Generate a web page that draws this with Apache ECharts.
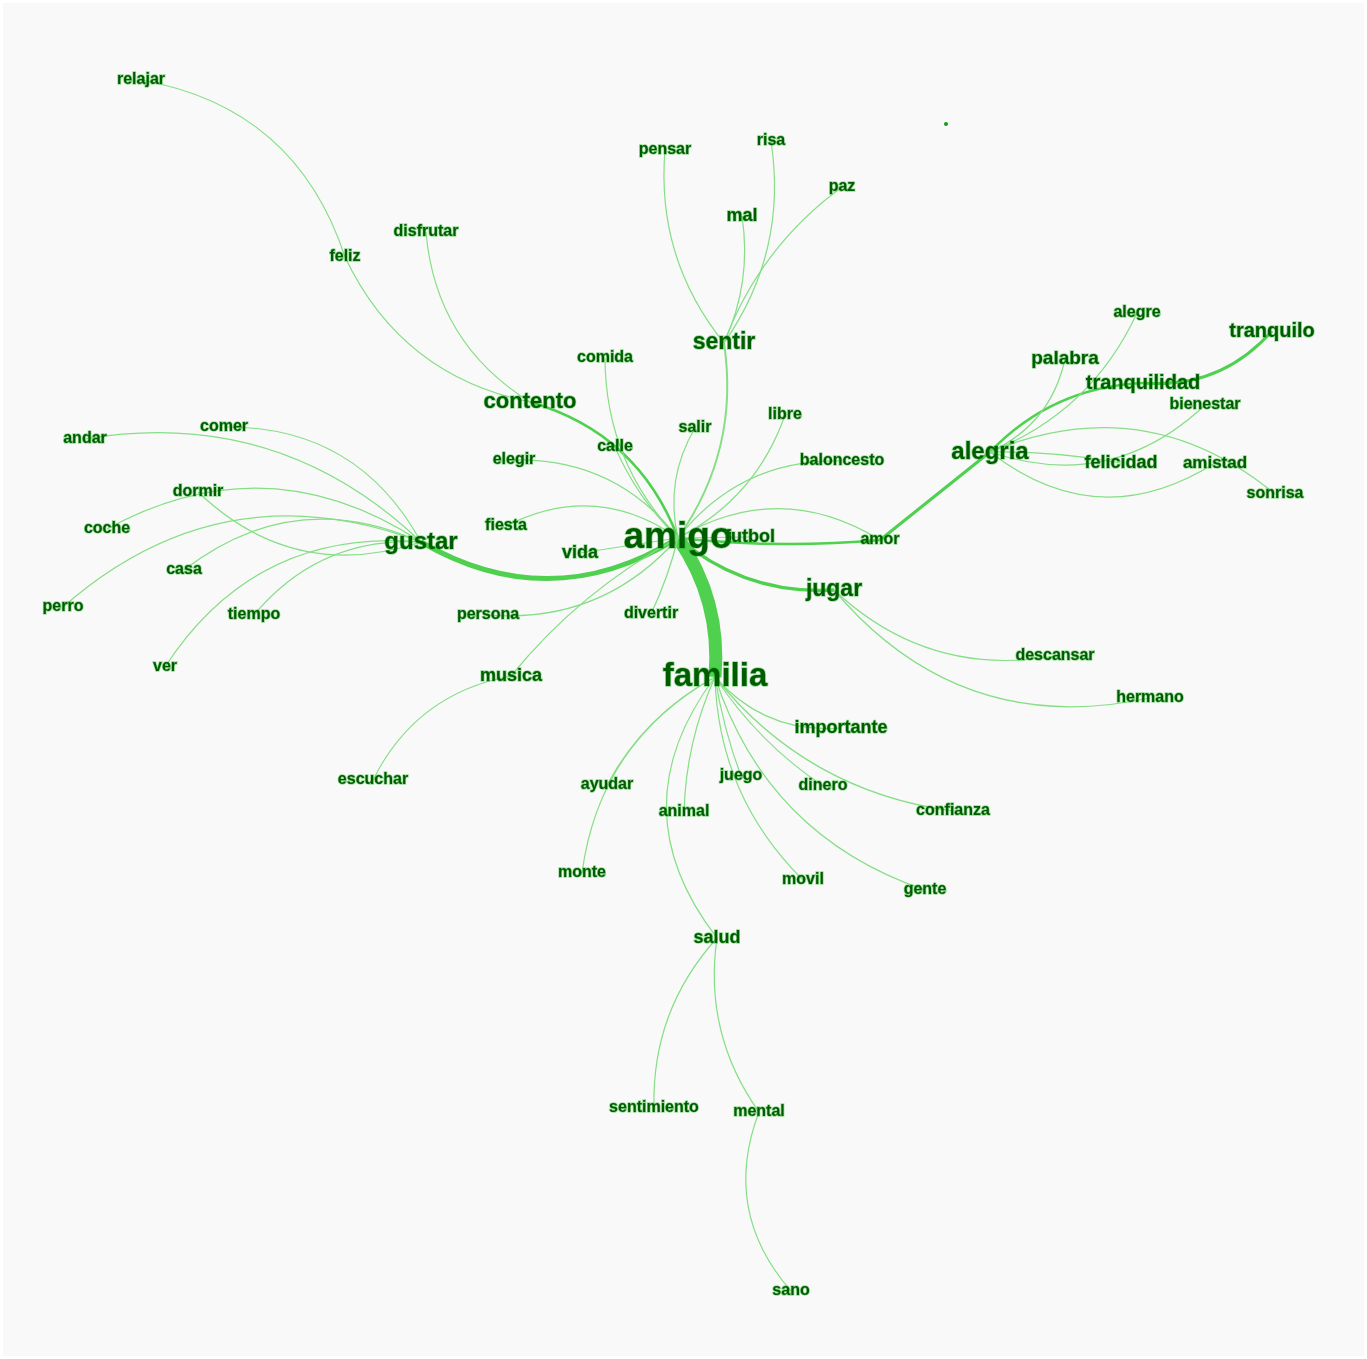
<!DOCTYPE html>
<html>
<head>
<meta charset="utf-8">
<script src="https://cdn.jsdelivr.net/npm/echarts@6/dist/echarts.min.js"></script>
<style>
  html, body { margin: 0; padding: 0; background: #ffffff; }
  #chart { width: 1367px; height: 1359px; box-sizing: border-box; border: 3px solid #ffffff; }
</style>
</head>
<body>
<div id="chart"></div>
<script>
// words, position (from layout) and size (frequency)
const words = ['amigo', 'familia', 'gustar', 'jugar', 'alegria', 'sentir', 'contento',
  'tranquilidad', 'tranquilo', 'palabra', 'alegre', 'bienestar', 'felicidad', 'amistad', 'sonrisa',
  'amor', 'futbol', 'baloncesto', 'libre', 'salir', 'comida', 'calle', 'elegir', 'fiesta', 'vida',
  'persona', 'divertir', 'musica', 'escuchar', 'relajar', 'feliz', 'disfrutar', 'pensar', 'risa',
  'paz', 'mal', 'andar', 'comer', 'dormir', 'coche', 'casa', 'perro', 'tiempo', 'ver',
  'descansar', 'hermano', 'importante', 'ayudar', 'juego', 'dinero', 'confianza', 'animal',
  'monte', 'movil', 'gente', 'salud', 'sentimiento', 'mental', 'sano'];
const wordX = [678, 715, 421, 834, 990, 724, 530,
  1143, 1272, 1065, 1137, 1205, 1121, 1215, 1275,
  880, 750, 842, 785, 695, 605, 615, 514, 506, 580,
  488, 651, 511, 373, 141, 345, 426, 665, 771,
  842, 742, 85, 224, 198, 107, 184, 63, 254, 165,
  1055, 1150, 841, 607, 741, 823, 953, 684,
  582, 803, 925, 717, 654, 759, 791];
const wordY = [538, 677, 542, 590, 452, 343, 402,
  383, 331, 359, 313, 405, 463, 463, 494,
  540, 537, 461, 415, 428, 358, 447, 460, 526, 553,
  615, 614, 676, 780, 80, 257, 232, 150, 141,
  187, 216, 439, 427, 492, 529, 570, 607, 615, 667,
  656, 698, 728, 785, 776, 786, 811, 812,
  873, 880, 890, 938, 1108, 1112, 1291];
const wordSize = [37, 33, 24, 23, 24, 23, 22,
  20, 20, 19, 16, 16, 18, 17, 16,
  16, 18, 16, 16, 16, 16, 16, 16, 16, 18,
  16, 16, 18, 16, 16, 16, 16, 16, 16,
  16, 18, 16, 16, 16, 16, 16, 16, 16, 16,
  16, 16, 18, 16, 16, 16, 16, 16,
  16, 16, 16, 18, 16, 16, 16];

// lone point without label
const dotX = 946, dotY = 124;

// co-occurrence links
const linkFrom = ['amigo', 'amigo', 'amigo', 'amigo', 'amigo', 'amigo', 'amigo', 'amigo',
  'amigo', 'amigo', 'amigo', 'amigo', 'amigo', 'amigo', 'amigo', 'amigo', 'amigo', 'amigo', 'amigo',
  'contento', 'feliz', 'contento',
  'sentir', 'sentir', 'sentir', 'sentir',
  'gustar', 'gustar', 'gustar', 'gustar', 'gustar', 'gustar', 'gustar', 'gustar',
  'alegria', 'alegria', 'tranquilidad', 'alegria', 'alegria', 'alegria', 'alegria', 'alegria', 'alegria',
  'jugar', 'jugar',
  'familia', 'familia', 'familia', 'familia', 'familia', 'familia', 'familia', 'familia', 'familia', 'familia',
  'salud', 'salud', 'mental', 'musica'];
const linkTo = ['familia', 'gustar', 'jugar', 'contento', 'sentir', 'amor', 'amor', 'futbol',
  'calle', 'comida', 'elegir', 'fiesta', 'vida', 'persona', 'divertir', 'musica', 'salir', 'libre', 'baloncesto',
  'feliz', 'relajar', 'disfrutar',
  'pensar', 'risa', 'paz', 'mal',
  'comer', 'andar', 'dormir', 'coche', 'perro', 'casa', 'tiempo', 'ver',
  'amor', 'tranquilidad', 'tranquilo', 'palabra', 'alegre', 'felicidad', 'bienestar', 'amistad', 'sonrisa',
  'descansar', 'hermano',
  'importante', 'dinero', 'confianza', 'juego', 'movil', 'gente', 'ayudar', 'monte', 'animal', 'salud',
  'sentimiento', 'mental', 'sano', 'escuchar'];
const linkWeight = [13, 5, 3.5, 2.5, 2, 2.5, 1.2, 1.2,
  1.2, 1.2, 1.2, 1.2, 1.2, 1.2, 1.2, 1.2, 1.2, 1.2, 1.2,
  1.2, 1.2, 1.2,
  1.2, 1.2, 1.2, 1.2,
  1.2, 1.2, 1.2, 1.2, 1.2, 1.2, 1.2, 1.2,
  3, 2.5, 3, 1.2, 1.2, 1.2, 1.2, 1.2, 1.2,
  1.2, 1.2,
  1.2, 1.2, 1.2, 1.2, 1.2, 1.2, 1.2, 1.2, 1.2, 1.2,
  1.2, 1.2, 1.2, 1.2];
const linkBend = [0.18, 0.3, -0.2, -0.25, -0.2, -0.05, 0.3, 0,
  0.1, 0.2, -0.25, -0.3, 0, 0.25, 0.05, -0.1, 0.2, -0.2, 0.25,
  0.25, -0.3, 0.25,
  0.2, -0.2, 0.15, -0.15,
  -0.3, -0.25, 0.3, -0.3, -0.3, -0.3, -0.25, -0.3,
  0, 0.2, -0.25, -0.25, -0.2, 0.05, -0.3, -0.35, 0.3,
  -0.25, -0.3,
  -0.25, -0.1, -0.2, -0.05, -0.2, -0.25, -0.15, -0.25, -0.1, -0.38,
  -0.2, -0.2, -0.3, -0.25];

const chart = echarts.init(document.getElementById('chart'));

const nodes = words.map((w, i) => ({
  name: w,
  value: [wordX[i], wordY[i]],
  symbolSize: 1,
  itemStyle: {color: 'rgba(0,0,0,0)'},
  label: {fontSize: wordSize[i]}
}));
nodes.push({
  name: '_dot',
  value: [dotX, dotY],
  symbolSize: 4,
  itemStyle: {color: '#1a9a1a'},
  label: {show: false}
});

const links = linkFrom.map((s, i) => ({
  source: s,
  target: linkTo[i],
  lineStyle: {
    width: linkWeight[i],
    curveness: linkBend[i],
    color: linkWeight[i] > 2 ? '#4fd04f' : '#86de86',
    opacity: 1
  }
}));

chart.setOption({
  backgroundColor: '#f9f9f9',
  animation: false,
  grid: {left: 0, right: 0, top: 0, bottom: 0},
  xAxis: {type: 'value', min: 3, max: 1364, show: false},
  yAxis: {type: 'value', min: 3, max: 1356, inverse: true, show: false},
  series: [
    {
      type: 'graph',
      layout: 'none',
      coordinateSystem: 'cartesian2d',
      symbol: 'circle',
      label: {
        show: true,
        position: 'inside',
        color: '#005c00',
        fontFamily: 'Liberation Sans',
        fontWeight: 'bold',
        textBorderColor: 'rgba(0,170,0,0.4)',
        textBorderWidth: 1.5,
        formatter: '{b}'
      },
      emphasis: {disabled: true},
      data: nodes,
      links: links
    }
  ]
});
</script>
</body>
</html>
